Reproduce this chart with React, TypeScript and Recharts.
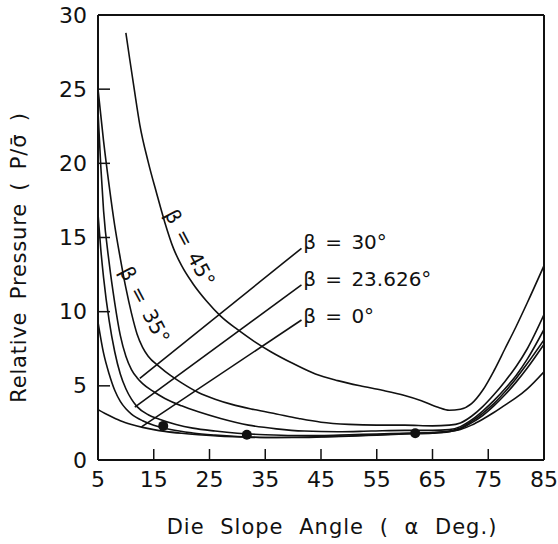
import React from "react";
import {
  ComposedChart,
  Line,
  Scatter,
  XAxis,
  YAxis,
  ReferenceLine,
} from "recharts";

type Pt = { a: number; p: number };

// die slope angle (deg) vs relative pressure
const beta45: Pt[] = [
  { a: 10, p: 28.8 }, { a: 10.7, p: 27 }, { a: 11.5, p: 25 }, { a: 12.5, p: 22.6 },
  { a: 14, p: 20.1 }, { a: 15.5, p: 18 }, { a: 17, p: 16 }, { a: 18.5, p: 14.3 },
  { a: 20, p: 13.1 }, { a: 22, p: 11.9 }, { a: 24.5, p: 10.7 }, { a: 27, p: 9.7 },
  { a: 30, p: 8.8 }, { a: 33, p: 8.0 }, { a: 36, p: 7.3 }, { a: 40, p: 6.5 },
  { a: 44, p: 5.8 }, { a: 48, p: 5.35 }, { a: 52, p: 5.0 }, { a: 56, p: 4.7 },
  { a: 60, p: 4.35 }, { a: 63, p: 4.0 }, { a: 66, p: 3.55 }, { a: 68, p: 3.35 },
  { a: 70, p: 3.42 }, { a: 72, p: 3.8 }, { a: 74, p: 4.7 }, { a: 76, p: 6.0 },
  { a: 78, p: 7.5 }, { a: 80, p: 9.0 }, { a: 82, p: 10.6 }, { a: 85, p: 13.1 },
];

const beta35: Pt[] = [
  { a: 5, p: 25 }, { a: 6, p: 21.5 }, { a: 7, p: 18.5 }, { a: 8, p: 15.8 },
  { a: 9, p: 13.6 }, { a: 10, p: 11.6 }, { a: 11, p: 9.9 }, { a: 12, p: 8.5 },
  { a: 13, p: 7.6 }, { a: 14, p: 7.0 }, { a: 16, p: 6.3 }, { a: 18, p: 5.7 },
  { a: 20, p: 5.2 }, { a: 23, p: 4.55 }, { a: 26, p: 4.1 }, { a: 29, p: 3.75 },
  { a: 33, p: 3.4 }, { a: 37, p: 3.1 }, { a: 41, p: 2.8 }, { a: 45, p: 2.55 },
  { a: 50, p: 2.4 }, { a: 55, p: 2.35 }, { a: 60, p: 2.35 }, { a: 65, p: 2.3 },
  { a: 68, p: 2.35 }, { a: 70, p: 2.5 }, { a: 72, p: 2.95 }, { a: 74, p: 3.6 },
  { a: 76, p: 4.4 }, { a: 78, p: 5.3 }, { a: 80, p: 6.3 }, { a: 82, p: 7.5 },
  { a: 85, p: 9.8 },
];

const beta30: Pt[] = [
  { a: 5, p: 23.5 }, { a: 5.5, p: 19.8 }, { a: 6, p: 16.8 }, { a: 7, p: 13.3 },
  { a: 8, p: 10.6 }, { a: 9, p: 8.4 }, { a: 10, p: 7.0 }, { a: 11, p: 6.1 },
  { a: 12, p: 5.55 }, { a: 13, p: 5.15 }, { a: 15, p: 4.6 }, { a: 17, p: 4.15 },
  { a: 20, p: 3.65 }, { a: 23, p: 3.25 }, { a: 27, p: 2.8 }, { a: 32, p: 2.35 },
  { a: 37, p: 2.1 }, { a: 42, p: 1.95 }, { a: 48, p: 1.9 }, { a: 54, p: 1.95 },
  { a: 60, p: 2.0 }, { a: 65, p: 2.0 }, { a: 68, p: 2.05 }, { a: 70, p: 2.25 },
  { a: 72, p: 2.7 }, { a: 74, p: 3.3 }, { a: 76, p: 4.0 }, { a: 78, p: 4.8 },
  { a: 80, p: 5.7 }, { a: 82, p: 6.8 }, { a: 85, p: 8.8 },
];

const beta23: Pt[] = [
  { a: 5, p: 16.6 }, { a: 5.5, p: 14.2 }, { a: 6, p: 12.3 }, { a: 7, p: 9.4 },
  { a: 8, p: 7.3 }, { a: 9, p: 5.8 }, { a: 10, p: 4.8 }, { a: 11, p: 4.1 },
  { a: 12, p: 3.6 }, { a: 14, p: 3.05 }, { a: 16, p: 2.75 }, { a: 19, p: 2.4 },
  { a: 22, p: 2.15 }, { a: 26, p: 1.95 }, { a: 30, p: 1.8 }, { a: 35, p: 1.7 },
  { a: 40, p: 1.65 }, { a: 45, p: 1.65 }, { a: 50, p: 1.7 }, { a: 55, p: 1.75 },
  { a: 60, p: 1.8 }, { a: 65, p: 1.85 }, { a: 68, p: 1.95 }, { a: 70, p: 2.15 },
  { a: 72, p: 2.6 }, { a: 74, p: 3.15 }, { a: 76, p: 3.8 }, { a: 78, p: 4.6 },
  { a: 80, p: 5.5 }, { a: 82, p: 6.5 }, { a: 85, p: 8.1 },
];

const betaMid: Pt[] = [
  { a: 5, p: 9.3 }, { a: 6, p: 7.2 }, { a: 7, p: 5.8 }, { a: 8, p: 4.7 },
  { a: 9, p: 3.95 }, { a: 10, p: 3.45 }, { a: 11, p: 3.1 }, { a: 13, p: 2.65 },
  { a: 15, p: 2.35 }, { a: 18, p: 2.05 }, { a: 22, p: 1.82 }, { a: 26, p: 1.68 },
  { a: 30, p: 1.58 }, { a: 35, p: 1.52 }, { a: 40, p: 1.52 }, { a: 45, p: 1.55 },
  { a: 50, p: 1.6 }, { a: 55, p: 1.68 }, { a: 60, p: 1.75 }, { a: 65, p: 1.8 },
  { a: 68, p: 1.9 }, { a: 70, p: 2.1 }, { a: 72, p: 2.5 }, { a: 74, p: 3.0 },
  { a: 76, p: 3.65 }, { a: 78, p: 4.4 }, { a: 80, p: 5.25 }, { a: 82, p: 6.2 },
  { a: 85, p: 7.8 },
];

const beta0: Pt[] = [
  { a: 5, p: 3.4 }, { a: 7, p: 3.0 }, { a: 9, p: 2.65 }, { a: 11, p: 2.4 },
  { a: 13, p: 2.2 }, { a: 15, p: 2.05 }, { a: 17, p: 1.93 }, { a: 20, p: 1.8 },
  { a: 23, p: 1.7 }, { a: 27, p: 1.6 }, { a: 31, p: 1.55 }, { a: 35, p: 1.52 },
  { a: 40, p: 1.53 }, { a: 45, p: 1.57 }, { a: 50, p: 1.62 }, { a: 55, p: 1.7 },
  { a: 60, p: 1.78 }, { a: 64, p: 1.83 }, { a: 67, p: 1.88 }, { a: 70, p: 2.05 },
  { a: 72, p: 2.35 }, { a: 74, p: 2.75 }, { a: 76, p: 3.2 }, { a: 78, p: 3.7 },
  { a: 80, p: 4.2 }, { a: 82, p: 4.8 }, { a: 85, p: 5.95 },
];

const optimumDots: Pt[] = [
  { a: 16.7, p: 2.3 },
  { a: 31.7, p: 1.7 },
  { a: 61.9, p: 1.8 },
];

// leader lines from the labels to their curves
const leader30: Pt[] = [{ a: 12.5, p: 5.5 }, { a: 41.5, p: 14.27 }];
const leader23: Pt[] = [{ a: 11.6, p: 3.57 }, { a: 41.5, p: 11.8 }];
const leader0: Pt[] = [{ a: 12.8, p: 2.23 }, { a: 41.5, p: 9.44 }];

const curveLabels = [
  { a: 41.8, p: 14.7, text: "β = 30°", angle: 0, anchor: "start" },
  { a: 41.8, p: 12.2, text: "β = 23.626°", angle: 0, anchor: "start" },
  { a: 41.8, p: 9.68, text: "β = 0°", angle: 0, anchor: "start" },
  { a: 21.5, p: 14.3, text: "β = 45°", angle: 62, anchor: "middle" },
  { a: 13.4, p: 10.45, text: "β = 35°", angle: 62, anchor: "middle" },
];

const xTicks = [5, 15, 25, 35, 45, 55, 65, 75, 85];
const yTicks = [0, 5, 10, 15, 20, 25, 30];

const FONT = "DejaVu Sans";
const INK = "#111";

const LabelShape = (props: any) => {
  const { cx, cy, payload } = props;
  return (
    <text
      x={cx}
      y={cy}
      textAnchor={payload.anchor}
      dominantBaseline="central"
      transform={payload.angle ? `rotate(${payload.angle} ${cx} ${cy})` : undefined}
      fontFamily={FONT}
      fontSize={20}
      wordSpacing={3}
      fill={INK}
    >
      {payload.text}
    </text>
  );
};

// ticks point into the plot, labels sit outside
const XTick = (props: any) => {
  const { x, y, payload } = props;
  const inner = payload.value !== 5 && payload.value !== 85;
  return (
    <g>
      {inner && <line x1={x} y1={y - 10} x2={x} y2={y - 21} stroke={INK} strokeWidth={1.5} />}
      <text x={x} y={y} dy="0.75em" textAnchor="middle" fontFamily={FONT} fontSize={22} fill={INK}>
        {payload.value}
      </text>
    </g>
  );
};

const YTick = (props: any) => {
  const { x, y, payload } = props;
  const inner = payload.value !== 0 && payload.value !== 30;
  return (
    <g>
      {inner && <line x1={x + 11} y1={y} x2={x + 23} y2={y} stroke={INK} strokeWidth={1.5} />}
      <text x={x} y={y} textAnchor="end" dominantBaseline="central" fontFamily={FONT} fontSize={22} fill={INK}>
        {payload.value}
      </text>
    </g>
  );
};

const YTitle = (props: any) => {
  const vb = props.viewBox ?? { x: 0, y: 15, width: 98, height: 445 };
  const x = vb.x + 19;
  const y = vb.y + vb.height / 2 + 20;
  return (
    <text
      x={x}
      y={y}
      transform={`rotate(-90 ${x} ${y})`}
      textAnchor="middle"
      dominantBaseline="central"
      fontFamily={FONT}
      fontSize={21}
      letterSpacing={0.8}
      wordSpacing={5}
      fill={INK}
    >
      Relative Pressure ( P/σ̄ )
    </text>
  );
};

const XTitle = (props: any) => {
  const vb = props.viewBox ?? { x: 98, y: 460, width: 446, height: 60 };
  const x = vb.x + vb.width / 2 + 11;
  const y = vb.y + 67;
  return (
    <text
      x={x}
      y={y}
      textAnchor="middle"
      dominantBaseline="central"
      fontFamily={FONT}
      fontSize={21}
      letterSpacing={1}
      wordSpacing={8}
      fill={INK}
    >
      Die Slope Angle ( α Deg.)
    </text>
  );
};

const curves = [beta45, beta35, beta30, beta23, betaMid, beta0];
const leaders = [leader30, leader23, leader0];

export default function App() {
  return (
    <div style={{ position: "absolute", left: 0, top: 0, background: "#fff" }}>
      <ComposedChart
        width={558}
        height={544}
        margin={{ top: 15, right: 14, bottom: 24, left: 0 }}
      >
        <XAxis
          dataKey="a"
          type="number"
          domain={[5, 85]}
          ticks={xTicks}
          allowDataOverflow
          height={60}
          tickSize={0}
          tickMargin={10}
          axisLine={{ stroke: INK, strokeWidth: 2 }}
          tickLine={false}
          tick={<XTick />}
          label={<XTitle />}
        />
        <YAxis
          dataKey="p"
          type="number"
          domain={[0, 30]}
          ticks={yTicks}
          allowDataOverflow
          width={98}
          tickSize={0}
          tickMargin={11}
          axisLine={{ stroke: INK, strokeWidth: 2 }}
          tickLine={false}
          tick={<YTick />}
          label={<YTitle />}
        />
        <ReferenceLine y={30} stroke={INK} strokeWidth={2} />
        <ReferenceLine x={85} stroke={INK} strokeWidth={2} />
        {curves.map((d, i) => (
          <Line
            key={`c${i}`}
            data={d}
            dataKey="p"
            type="monotone"
            stroke={INK}
            strokeWidth={1.6}
            dot={false}
            isAnimationActive={false}
          />
        ))}
        {leaders.map((d, i) => (
          <Line
            key={`l${i}`}
            data={d}
            dataKey="p"
            type="linear"
            stroke={INK}
            strokeWidth={1.6}
            dot={false}
            isAnimationActive={false}
          />
        ))}
        <Scatter
          data={optimumDots}
          dataKey="p"
          fill={INK}
          shape={(p: any) => <circle cx={p.cx} cy={p.cy} r={5} fill={INK} />}
          isAnimationActive={false}
        />
        <Scatter
          data={curveLabels}
          dataKey="p"
          shape={LabelShape}
          isAnimationActive={false}
        />
      </ComposedChart>
    </div>
  );
}
